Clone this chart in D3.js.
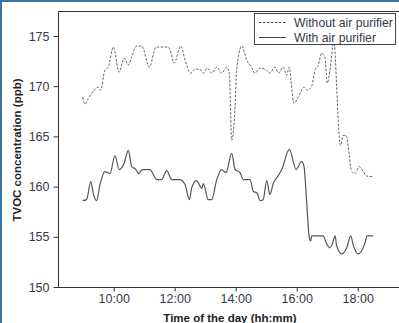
<!DOCTYPE html>
<html>
<head>
<meta charset="utf-8">
<script src="https://cdn.jsdelivr.net/npm/d3@7"></script>
<style>
body { margin: 0; background: #fff; }
svg { display: block; font-family: "Liberation Sans", Arial, sans-serif; }
</style>
</head>
<body>
<div id="chart"></div>
<script>
'use strict'

// Time of day in decimal hours, TVOC in ppb
const timesWithout = [8.98, 9.06, 9.17, 9.33, 9.48, 9.57, 9.71, 9.82, 9.99, 10.18, 10.34, 10.48, 10.59, 10.75, 10.92, 11.17, 11.39, 11.79, 11.85, 11.98, 12.20, 12.34, 12.52, 12.67, 12.83, 12.94, 13.07, 13.21, 13.38, 13.54, 13.70, 13.79, 13.87, 13.98, 14.03, 14.20, 14.36, 14.52, 14.63, 14.80, 14.96, 15.12, 15.29, 15.40, 15.56, 15.67, 15.75, 15.91, 16.05, 16.24, 16.35, 16.49, 16.60, 16.71, 16.82, 16.93, 17.00, 17.09, 17.22, 17.31, 17.36, 17.44, 17.52, 17.62, 17.69, 17.80, 17.91, 18.05, 18.18, 18.30, 18.51];
const valuesWithout = [168.9, 168.2, 168.8, 169.5, 169.9, 169.6, 171.6, 171.9, 173.9, 171.4, 172.8, 172.1, 172.9, 174.0, 174.0, 171.9, 173.9, 173.9, 173.6, 172.3, 174.0, 172.6, 171.3, 171.7, 171.7, 171.3, 171.8, 171.3, 171.9, 171.3, 171.9, 171.3, 164.6, 168.0, 171.6, 174.0, 172.6, 171.9, 171.3, 171.8, 171.7, 171.3, 171.9, 171.3, 171.9, 171.1, 171.9, 168.3, 168.9, 169.9, 169.6, 170.0, 171.6, 172.1, 173.3, 172.8, 170.3, 171.6, 174.5, 170.0, 166.6, 164.1, 165.1, 165.1, 164.0, 161.5, 161.3, 162.0, 161.5, 161.05, 161.0];

const timesWith = [8.98, 9.11, 9.25, 9.33, 9.44, 9.55, 9.71, 9.88, 10.04, 10.18, 10.34, 10.48, 10.59, 10.73, 10.81, 10.95, 11.19, 11.41, 11.57, 11.74, 11.90, 12.17, 12.34, 12.48, 12.56, 12.72, 12.89, 12.94, 13.10, 13.21, 13.38, 13.54, 13.68, 13.87, 13.98, 14.14, 14.25, 14.47, 14.58, 14.69, 14.80, 14.90, 15.02, 15.12, 15.23, 15.40, 15.51, 15.76, 15.98, 16.16, 16.24, 16.33, 16.41, 16.46, 16.49, 16.87, 16.98, 17.09, 17.18, 17.26, 17.31, 17.48, 17.64, 17.77, 17.86, 18.02, 18.24, 18.31, 18.51];
const valuesWith = [158.6, 158.7, 160.5, 159.3, 158.6, 160.2, 161.5, 161.3, 163.1, 161.7, 162.3, 163.6, 162.0, 161.7, 161.3, 161.7, 161.7, 160.7, 160.7, 161.6, 160.7, 160.7, 160.2, 158.7, 159.9, 160.6, 159.8, 160.3, 158.7, 158.7, 160.7, 161.7, 161.4, 163.3, 161.7, 161.4, 160.7, 160.7, 159.5, 159.4, 158.6, 158.7, 160.6, 159.2, 160.3, 161.1, 161.7, 163.7, 161.7, 162.5, 162.0, 158.3, 155.0, 154.6, 155.1, 155.1, 154.3, 153.9, 154.4, 155.1, 154.1, 153.3, 153.9, 155.1, 154.1, 153.3, 154.4, 155.1, 155.1];

const xTicks = [10, 12, 14, 16, 18];
const xTickLabels = ['10:00', '12:00', '14:00', '16:00', '18:00'];
const yTicks = [150, 155, 160, 165, 170, 175];
const legendLabels = ['Without air purifier', 'With air purifier'];

const width = 399;
const height = 323;
const textColor = '#353a48';

const svg = d3.select('#chart')
	.append('svg')
	.attr('width', width)
	.attr('height', height);

// Plot box (runs off the right edge like the original crop)
const box = { left: 58, top: 11, right: 440, bottom: 287 };

const x = d3.scaleLinear().domain([10, 18]).range([113.7, 357.7]);
const y = d3.scaleLinear().domain([150, 175]).range([287, 36]);

// blue frame of the figure
svg.append('line').attr('x1', 0).attr('x2', width).attr('y1', 1).attr('y2', 1)
	.attr('stroke', '#3a72ac').attr('stroke-width', 2);
svg.append('line').attr('x1', 1).attr('x2', 1).attr('y1', 0).attr('y2', height)
	.attr('stroke', '#3a72ac').attr('stroke-width', 2);

svg.append('rect')
	.attr('x', box.left + 0.5)
	.attr('y', box.top + 0.5)
	.attr('width', box.right - box.left)
	.attr('height', box.bottom - box.top)
	.attr('fill', 'none')
	.attr('stroke', '#333')
	.attr('stroke-width', 1);

// x axis
const xAxis = d3.axisBottom(x)
	.tickValues(xTicks)
	.tickFormat((d, i) => xTickLabels[i])
	.tickSize(4)
	.tickPadding(3);
const gx = svg.append('g')
	.attr('transform', `translate(0,${box.bottom + 0.5})`)
	.call(xAxis);
gx.select('.domain').remove();
gx.selectAll('line').attr('stroke', '#333');
gx.selectAll('text')
	.attr('font-size', 12.5)
	.attr('font-family', '"Liberation Sans", Arial, sans-serif')
	.attr('fill', textColor);

// y axis
const yAxis = d3.axisLeft(y)
	.tickValues(yTicks)
	.tickSize(5)
	.tickPadding(4);
const gy = svg.append('g')
	.attr('transform', `translate(${box.left + 0.5},0)`)
	.call(yAxis);
gy.select('.domain').remove();
gy.selectAll('line').attr('stroke', '#333');
gy.selectAll('text')
	.attr('font-size', 12.5)
	.attr('font-family', '"Liberation Sans", Arial, sans-serif')
	.attr('fill', textColor);

// axis titles
svg.append('text')
	.attr('transform', 'translate(21,150) rotate(-90)')
	.attr('text-anchor', 'middle')
	.attr('font-size', 11.5)
	.attr('font-weight', 'bold')
	.attr('fill', '#222')
	.text('TVOC concentration (ppb)');

svg.append('text')
	.attr('x', 230)
	.attr('y', 322)
	.attr('text-anchor', 'middle')
	.attr('font-size', 11.5)
	.attr('font-weight', 'bold')
	.attr('fill', '#222')
	.text('Time of the day (hh:mm)');

// lines
const line = d3.line()
	.x(d => x(d[0]))
	.y(d => y(d[1]))
	.curve(d3.curveMonotoneX);

const withoutData = d3.zip(timesWithout, valuesWithout);
const withData = d3.zip(timesWith, valuesWith);

svg.append('path')
	.datum(withoutData)
	.attr('d', line)
	.attr('fill', 'none')
	.attr('stroke', '#666')
	.attr('stroke-width', 1)
	.attr('stroke-dasharray', '2.5,1.5');

svg.append('path')
	.datum(withData)
	.attr('d', line)
	.attr('fill', 'none')
	.attr('stroke', '#555')
	.attr('stroke-width', 1.2);

// legend
const lg = svg.append('g');
lg.append('rect')
	.attr('x', 254.5)
	.attr('y', 13.5)
	.attr('width', 141)
	.attr('height', 31)
	.attr('fill', '#fff')
	.attr('stroke', '#444');

legendLabels.forEach((lbl, i) => {
	let ly = 22.5 + i * 15;
	lg.append('line')
		.attr('x1', 259).attr('x2', 286)
		.attr('y1', ly).attr('y2', ly)
		.attr('stroke', '#444')
		.attr('stroke-width', 1)
		.attr('stroke-dasharray', i === 0 ? '2.5,1.5' : null);
	lg.append('text')
		.attr('x', 294)
		.attr('y', ly + 4.5)
		.attr('font-size', 12.2)
		.attr('fill', textColor)
		.text(lbl);
});
</script>
</body>
</html>
